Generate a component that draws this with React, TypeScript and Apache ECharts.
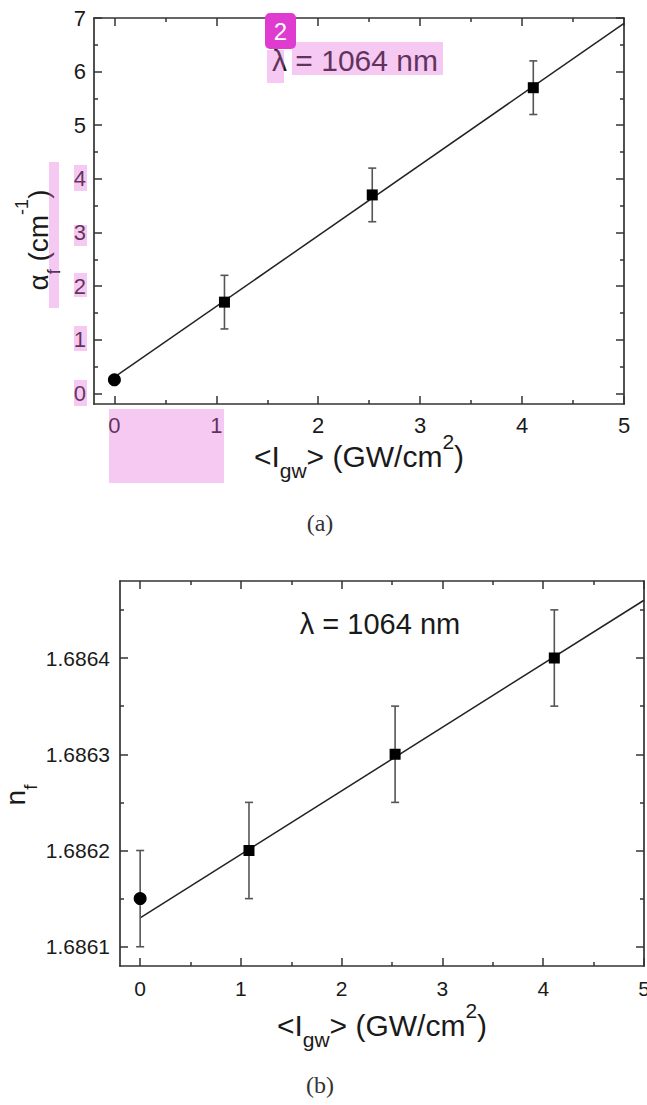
import React, { useEffect, useRef } from "react";
import * as echarts from "echarts";

// ---- data ----
const intensity = [0, 1.08, 2.53, 4.11];
const alphaF = [0.25, 1.7, 3.7, 5.7];
const alphaErr = [0, 0.5, 0.5, 0.5];
const nF = [1.68615, 1.6862, 1.6863, 1.6864];
const nErr = [0.00005, 0.00005, 0.00005, 0.00005];
const fitX = [0, 5];
const alphaFit = [0.3, 6.9];
const nFit = [1.68613, 1.68646];

const xTicks = [0, 1, 2, 3, 4, 5];
const xMinor = [0.5, 1.5, 2.5, 3.5, 4.5];
const alphaTicks = [0, 1, 2, 3, 4, 5, 6, 7];
const alphaMinor = [0.5, 1.5, 2.5, 3.5, 4.5, 5.5, 6.5];
const nTicks = [1.6861, 1.6862, 1.6863, 1.6864];
const nMinor = [1.68615, 1.68625, 1.68635, 1.68645];

const AXIS_COLOR = "#333";
const FONT = "Liberation Sans";

function makeAxes(
  kind: "x" | "y",
  gridIndex: number,
  min: number,
  max: number,
  major: number[],
  minor: number[],
  label: any
) {
  const posA = kind === "x" ? "bottom" : "left";
  const posB = kind === "x" ? "top" : "right";
  const lineStyle = { color: AXIS_COLOR, width: 1.7 };
  const base = { type: "value", gridIndex, min, max, splitLine: { show: false } };
  const mk = (pos: string, ticks: number[], len: number, showLine: boolean, lab: any) => ({
    ...base,
    position: pos,
    axisLine: { show: showLine, onZero: false, lineStyle },
    axisTick: { show: true, inside: true, length: len, customValues: ticks, lineStyle: { color: AXIS_COLOR, width: 1.5 } },
    axisLabel: lab ? { show: true, customValues: major, ...lab } : { show: false },
  });
  return [
    mk(posA, major, 8, true, label),
    mk(posA, minor, 4, false, null),
    mk(posB, major, 8, true, null),
    mk(posB, minor, 4, false, null),
  ];
}

function errorRender(params: any, api: any) {
  const x = api.value(0);
  const y = api.value(1);
  const e = api.value(2);
  if (!e) return null;
  const top = api.coord([x, y + e]);
  const bot = api.coord([x, y - e]);
  const st = { stroke: "#555", lineWidth: 1.6 };
  const cap = 4;
  return {
    type: "group",
    children: [
      { type: "line", shape: { x1: top[0], y1: top[1], x2: bot[0], y2: bot[1] }, style: st },
      { type: "line", shape: { x1: top[0] - cap, y1: top[1], x2: top[0] + cap, y2: top[1] }, style: st },
      { type: "line", shape: { x1: bot[0] - cap, y1: bot[1], x2: bot[0] + cap, y2: bot[1] }, style: st },
    ],
  };
}

function seriesFor(axisIndex: number, ys: number[], errs: number[], fit: number[]) {
  return [
    {
      type: "line",
      xAxisIndex: axisIndex,
      yAxisIndex: axisIndex,
      data: fitX.map((x, i) => [x, fit[i]]),
      symbol: "none",
      lineStyle: { color: "#222", width: 1.5 },
      z: 2,
    },
    {
      type: "custom",
      xAxisIndex: axisIndex,
      yAxisIndex: axisIndex,
      data: intensity.map((x, i) => [x, ys[i], errs[i]]),
      encode: { x: 0, y: 1 },
      renderItem: errorRender,
      z: 3,
    },
    {
      type: "scatter",
      xAxisIndex: axisIndex,
      yAxisIndex: axisIndex,
      data: intensity.map((x, i) => [x, ys[i]]),
      symbol: (_v: any, p: any) => (p.dataIndex === 0 ? "circle" : "rect"),
      symbolSize: (_v: any, p: any) => (p.dataIndex === 0 ? 13 : 11),
      itemStyle: { color: "#000", opacity: 1 },
      z: 4,
    },
  ];
}

const titleRich = (main: number, sub: number) => ({
  m: { fontSize: main, fontFamily: FONT, fill: "#1a1a1a", lineHeight: 50 },
  s: { fontSize: sub, fontFamily: FONT, fill: "#1a1a1a", lineHeight: 22, verticalAlign: "bottom" },
  p: { fontSize: sub, fontFamily: FONT, fill: "#1a1a1a", lineHeight: 20, verticalAlign: "top" },
});

const PINK = "rgba(228, 100, 218, 0.35)";
const pinkRects = [
  [267, 50, 17, 33],
  [292, 42, 151, 33],
  [49, 162, 10, 146],
  [74, 165, 13, 26],
  [74, 225, 13, 21],
  [74, 273, 13, 24],
  [74, 326, 13, 25],
  [74, 380, 13, 26],
  [109, 409, 115, 74],
];

export default function App() {
  const ref = useRef<HTMLDivElement>(null);
  useEffect(() => {
    document.body.style.margin = "0";
    if (!ref.current) return;
    const chart = echarts.init(ref.current, undefined, { renderer: "svg" });
    const option: any = {
      animation: false,
      backgroundColor: "#fff",
      grid: [
        { left: 94, top: 18, width: 530, height: 386, containLabel: false, outerBoundsMode: "none" },
        { left: 120, top: 581, width: 524, height: 385, containLabel: false, outerBoundsMode: "none" },
      ],
      xAxis: [
        ...makeAxes("x", 0, -0.2, 5, xTicks, xMinor, { fontSize: 22, color: "#1a1a1a", fontFamily: FONT, margin: 10 }),
        ...makeAxes("x", 1, -0.2, 5, xTicks, xMinor, { fontSize: 21, color: "#1a1a1a", fontFamily: FONT, margin: 12 }),
      ],
      yAxis: [
        ...makeAxes("y", 0, -0.2, 7, alphaTicks, alphaMinor, { fontSize: 22, color: "#1a1a1a", fontFamily: FONT, margin: 8 }),
        ...makeAxes("y", 1, 1.68608, 1.68648, nTicks, nMinor, {
          fontSize: 21,
          color: "#1a1a1a",
          fontFamily: FONT,
          margin: 10,
          formatter: (v: number) => v.toFixed(4),
        }),
      ],
      series: [...seriesFor(0, alphaF, alphaErr, alphaFit), ...seriesFor(4, nF, nErr, nFit)],
      graphic: [
        {
          type: "text",
          x: 359,
          y: 456,
          style: { text: "{m|<I}{s|gw}{m|> (GW/cm}{p|2}{m|)}", rich: titleRich(30, 21), align: "center", verticalAlign: "middle" },
        },
        {
          type: "text",
          x: 382,
          y: 1025,
          style: { text: "{m|<I}{s|gw}{m|> (GW/cm}{p|2}{m|)}", rich: titleRich(30, 21), align: "center", verticalAlign: "middle" },
        },
        {
          type: "text",
          x: 38,
          y: 240,
          rotation: Math.PI / 2,
          style: { text: "{m|α}{s|f}{m| (cm}{p|-1}{m|)}", rich: titleRich(28, 18), align: "center", verticalAlign: "middle" },
        },
        {
          type: "text",
          x: 15,
          y: 795,
          rotation: Math.PI / 2,
          style: { text: "{m|n}{s|f}", rich: titleRich(28, 19), align: "center", verticalAlign: "middle" },
        },
        {
          type: "text",
          x: 355,
          y: 60,
          style: { text: "λ = 1064 nm", font: `30px "${FONT}"`, lineHeight: 20, fill: "#1a1a1a", align: "center", verticalAlign: "middle" },
        },
        {
          type: "text",
          x: 380,
          y: 624,
          style: { text: "λ = 1064 nm", font: `29px "${FONT}"`, fill: "#1a1a1a", align: "center", verticalAlign: "middle" },
        },
        {
          type: "text",
          x: 320,
          y: 523,
          style: { text: "(a)", font: `24px "Liberation Serif"`, fill: "#333", align: "center", verticalAlign: "middle" },
        },
        {
          type: "text",
          x: 320,
          y: 1085,
          style: { text: "(b)", font: `24px "Liberation Serif"`, fill: "#333", align: "center", verticalAlign: "middle" },
        },
        ...pinkRects.map(([x, y, w, h]) => ({
          type: "rect",
          z: 100,
          shape: { x, y, width: w, height: h },
          style: { fill: PINK },
        })),
        {
          type: "rect",
          z: 110,
          shape: { x: 265, y: 13, width: 31, height: 36, r: 5 },
          style: { fill: "#E03BD0" },
        },
        {
          type: "text",
          z: 111,
          x: 280.5,
          y: 31,
          style: { text: "2", font: `24px "${FONT}"`, fill: "#fff", align: "center", verticalAlign: "middle" },
        },
      ],
    };
    chart.setOption(option);
    return () => chart.dispose();
  }, []);
  return <div ref={ref} style={{ position: "absolute", left: 0, top: 0, width: 647, height: 1105 }} />;
}
